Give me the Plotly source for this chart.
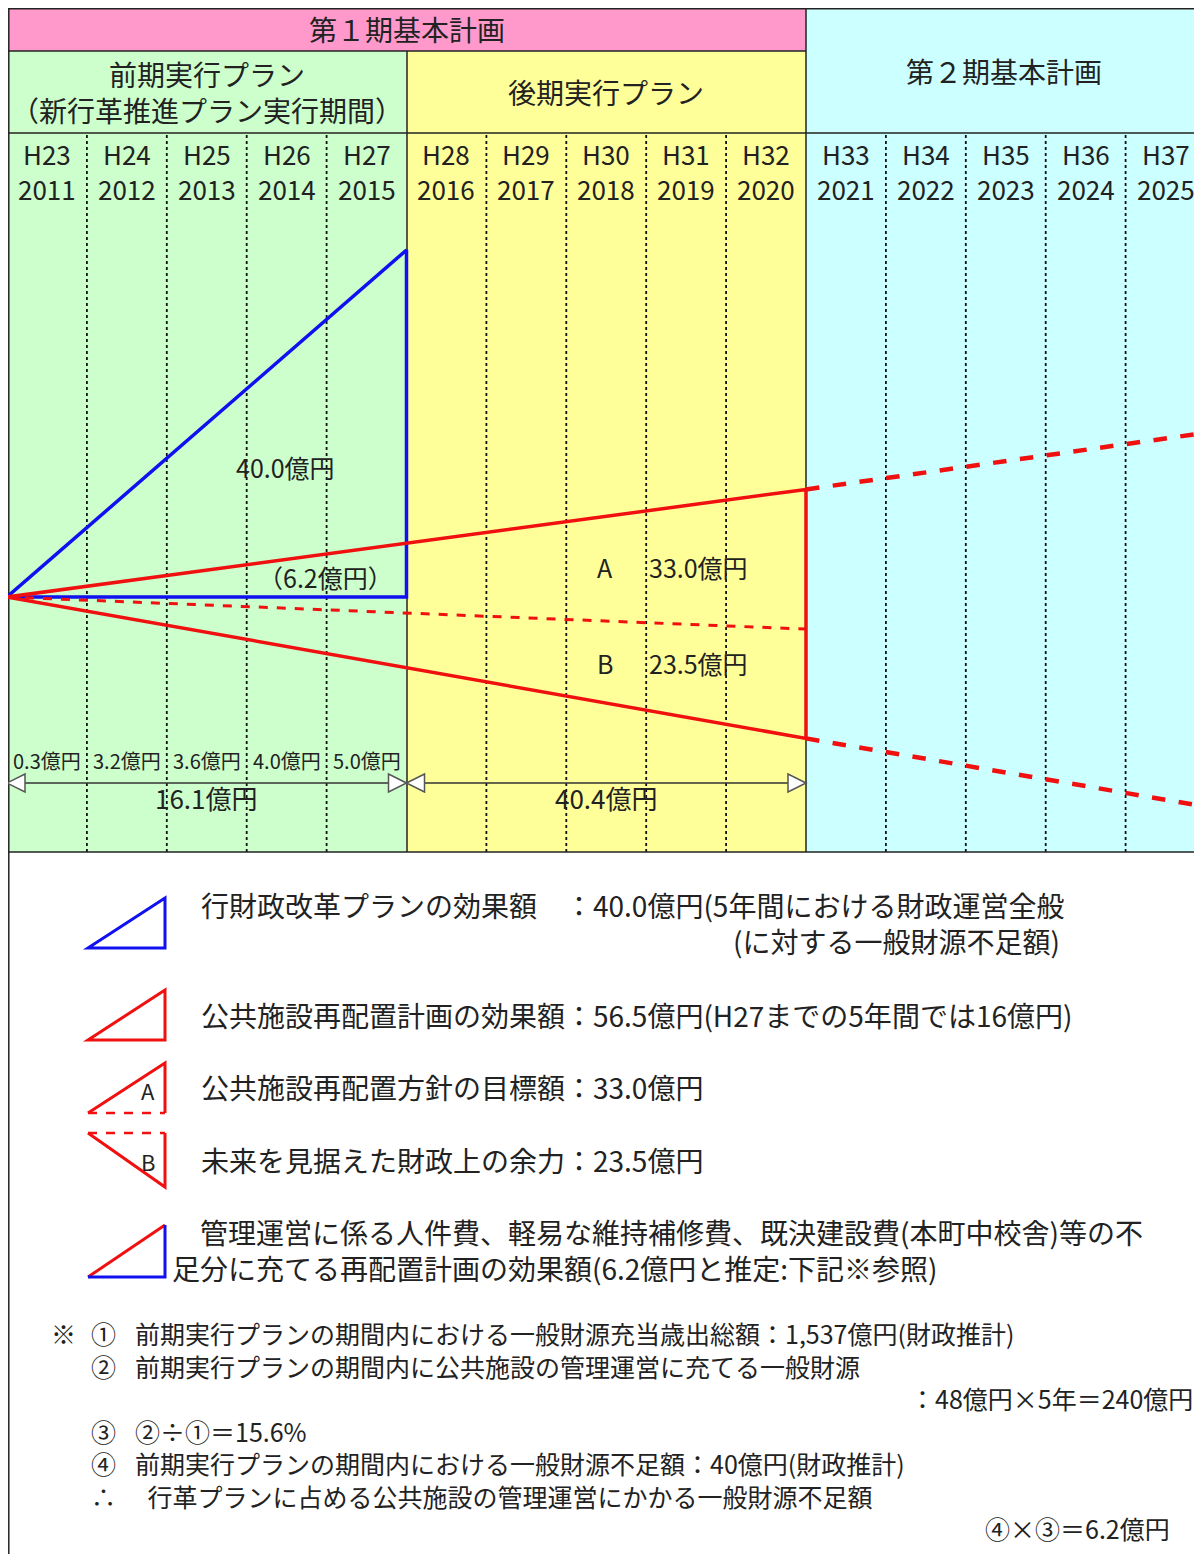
import plotly.graph_objects as go

# the page puts the figure 8px in from the top-left corner
OFF = 8
W, H = 1202 - OFF, 1554 - OFF

# ---------------- data ----------------
years = [2011, 2012, 2013, 2014, 2015, 2016, 2017, 2018, 2019, 2020,
         2021, 2022, 2023, 2024, 2025]
wareki = ["H23", "H24", "H25", "H26", "H27", "H28", "H29", "H30", "H31", "H32",
          "H33", "H34", "H35", "H36", "H37"]

plan1_label = "第１期基本計画"
plan1_span = [2011, 2021]
period_labels = ["前期実行プラン<br>（新行革推進プラン実行期間）", "後期実行プラン", "第２期基本計画"]
period_start = [2011, 2016, 2021]
period_end = [2016, 2021, 2026]

gyokaku_total = 40.0        # 行財政改革プランの効果額 (blue triangle)
mgmt_share = 6.2            # 管理運営に充てる効果額
target_a = 33.0             # A 公共施設再配置方針の目標額
reserve_b = 23.5            # B 未来を見据えた財政上の余力
early_annual = [0.3, 3.2, 3.6, 4.0, 5.0]   # H23-H27
late_total = 40.4                          # H28-H32

# schematic heights of the red fan (upper / middle / lower) at end of H32, and the dashed extension
fan_end_x = 2021
fan_end = [12.4, -3.7, -16.3]
ext_end_x = 2025.9
ext_end = [18.8, -24.0]

# ---------------- layout helpers ----------------
COL, LEFT = 79.9, 7          # px per year, left border (reference pixels)
BASE, UNIT = 597, 8.675      # baseline row, px per unit
FONT = "Noto Sans CJK JP, sans-serif"
INK = "#222222"
BLUE, RED = "#1010F0", "#F01010"
period_colors = ["#CCFFCC", "#FFFF99", "#CCFFFF"]
PINK = "#FF99CC"
SP = "\u3000"


def px(x):
    return (x - OFF) / W


def py(y):
    return 1 - (y - OFF) / H


def yx(x):  # reference pixel column -> year axis
    return 2011 + (x - LEFT) / COL


fig = go.Figure()
shapes = []
ann = []


def text(t, x, y, size, xanchor="center", xref="paper", color=INK, align=None):
    ann.append(dict(text=t, x=x, y=y, xref=xref, yref="paper", xanchor=xanchor, yanchor="middle",
                    align=align or ("left" if xanchor == "left" else "center"),
                    showarrow=False, borderpad=0, font=dict(family=FONT, size=size, color=color)))


def rect(x0, x1, y0, y1, color):
    shapes.append(dict(type="rect", xref="x", yref="paper", x0=x0, x1=x1, y0=py(y1), y1=py(y0),
                       fillcolor=color, line=dict(width=0), layer="below"))


def pline(x0, y0, x1, y1, width=1.5, color=INK):
    shapes.append(dict(type="line", xref="paper", yref="paper", x0=px(x0), y0=py(y0), x1=px(x1), y1=py(y1),
                       line=dict(color=color, width=width), layer="below"))


TOP = OFF + 0.8

# ---------------- header & column backgrounds ----------------
rect(plan1_span[0], plan1_span[1], TOP, 51, PINK)
text(plan1_label, (plan1_span[0] + plan1_span[1]) / 2, py(29), 28, xref="x")
for i, (s, e) in enumerate(zip(period_start, period_end)):
    rect(s, e, TOP if i == 2 else 51, 852, period_colors[i])
text(period_labels[0], (period_start[0] + period_end[0]) / 2, py(91.5), 28, xref="x")
text(period_labels[1], (period_start[1] + period_end[1]) / 2, py(92), 28, xref="x")
text(period_labels[2], (period_start[2] + yx(1202)) / 2, py(71), 28, xref="x")

for yr, w in zip(years, wareki):
    text(w, yr + 0.5, py(153), 26, xref="x")
    text(str(yr), yr + 0.5, py(188), 26, xref="x")
    if yr not in period_start:
        shapes.append(dict(type="line", xref="x", yref="paper", x0=yr, x1=yr, y0=py(852), y1=py(133),
                           line=dict(color="#111111", width=1.8, dash="dot"), layer="below"))

# frame lines
pline(LEFT, TOP, 1202, TOP)
pline(LEFT, 51, 806, 51)
pline(LEFT, 133, 1202, 133)
pline(LEFT, 852, 1202, 852)
pline(OFF + 0.8, TOP, OFF + 0.8, 1554)
pline(407, 51, 407, 852)
pline(806, TOP, 806, 852)

# ---------------- chart marks ----------------
fig.add_trace(go.Scatter(x=[2011, 2016, 2016, 2011], y=[0, gyokaku_total, 0, 0], mode="lines",
                         line=dict(color=BLUE, width=3.5), hoverinfo="skip"))
fig.add_trace(go.Scatter(x=[2011, fan_end_x], y=[0, fan_end[1]], mode="lines",
                         line=dict(color=RED, width=3, dash="dash"), hoverinfo="skip"))
fig.add_trace(go.Scatter(x=[2011, fan_end_x, fan_end_x, 2011], y=[0, fan_end[0], fan_end[2], 0], mode="lines",
                         line=dict(color=RED, width=3.5), hoverinfo="skip"))
for v0, v1 in zip(fan_end[::2], ext_end):
    fig.add_trace(go.Scatter(x=[fan_end_x, ext_end_x], y=[v0, v1], mode="lines",
                             line=dict(color=RED, width=4.5, dash="dash"), hoverinfo="skip"))

text(f"{gyokaku_total:.1f}億円", yx(285), py(467), 25, xref="x")
text(f"（{mgmt_share:.1f}億円）", yx(325), py(577), 25, xref="x")
text("A", yx(605), py(567), 25, xref="x")
text(f"{target_a:.1f}億円", yx(648), py(567), 25, xanchor="left", xref="x")
text("B", yx(605), py(663), 25, xref="x")
text(f"{reserve_b:.1f}億円", yx(648), py(663), 25, xanchor="left", xref="x")

# annual amounts and totals with double arrows
for yr, v in zip(years[:5], early_annual):
    text(f"{v:.1f}億円", yr + 0.5, py(760), 20, xref="x")
ay = (BASE - 783) / UNIT
ah, aw = 9 / UNIT, 18 / COL
for (s, e), tot in zip(zip(period_start[:2], period_end[:2]), [sum(early_annual), late_total]):
    shapes.append(dict(type="line", xref="x", yref="y", x0=s, x1=e, y0=ay, y1=ay,
                       line=dict(color="#333333", width=1.3)))
    for tip, base in [(s, s + aw), (e, e - aw)]:
        shapes.append(dict(type="path", xref="x", yref="y",
                           path=f"M {tip},{ay} L {base},{ay + ah} L {base},{ay - ah} Z",
                           fillcolor="white", line=dict(color="#555555", width=1.5)))
    text(f"{tot:.1f}億円", (s + e) / 2, py(797), 26, xref="x")


# ---------------- legend icons ----------------
def path(pts, color, width=3, dash="solid", close=False):
    d = "M " + " L ".join(f"{px(a)},{py(b)}" for a, b in pts) + (" Z" if close else "")
    shapes.append(dict(type="path", xref="paper", yref="paper", path=d,
                       line=dict(color=color, width=width, dash=dash)))


path([(88, 948), (165, 898), (165, 948)], BLUE, close=True)
path([(88, 1040), (165, 990), (165, 1040)], RED, close=True)
path([(88, 1113), (165, 1063), (165, 1113)], RED)
path([(88, 1113), (165, 1113)], RED, width=2.5, dash="dash")
text("A", px(148), py(1090), 22)
path([(88, 1133), (165, 1133)], RED, width=2.5, dash="dash")
path([(88, 1133), (165, 1187), (165, 1133)], RED)
text("B", px(148), py(1161), 22)
path([(88, 1277), (165, 1225)], RED)
path([(165, 1225), (165, 1277), (88, 1277)], BLUE)

LS = 28
text(f"行財政改革プランの効果額　：{gyokaku_total:.1f}億円(5年間における財政運営全般<br>"
     + SP * 19 + "(に対する一般財源不足額)", px(200), py(922.5), LS, "left")
text(f"公共施設再配置計画の効果額：{sum(early_annual) + late_total:.1f}億円(H27までの5年間では16億円)",
     px(200), py(1015), LS, "left")
text(f"公共施設再配置方針の目標額：{target_a:.1f}億円", px(200), py(1087), LS, "left")
text(f"未来を見据えた財政上の余力：{reserve_b:.1f}億円", px(200), py(1160), LS, "left")
text("　管理運営に係る人件費、軽易な維持補修費、既決建設費(本町中校舎)等の不<br>"
     f"足分に充てる再配置計画の効果額({mgmt_share:.1f}億円と推定:下記※参照)", px(171), py(1250), LS, "left")

# notes: marks column and body block
NS = 25
text("※", px(50), py(1333), NS, "left")
note_marks = ["①", "②", SP, "③", "④", "∴", SP]
note_lines = ["前期実行プランの期間内における一般財源充当歳出総額：1,537億円(財政推計)",
              "前期実行プランの期間内に公共施設の管理運営に充てる一般財源",
              SP * 31 + "：48億円×5年＝240億円",
              "②÷①＝15.6%",
              "前期実行プランの期間内における一般財源不足額：40億円(財政推計)",
              "\u2002行革プランに占める公共施設の管理運営にかかる一般財源不足額",
              SP * 34 + f"④×③＝{mgmt_share:.1f}億円"]
text("<br>".join(note_marks), px(90), py(1430.5), NS, "left")
text("<br>".join(note_lines), px(134), py(1430.5), NS, "left")

fig.update_layout(
    width=W, height=H, margin=dict(l=0, r=0, t=0, b=0),
    paper_bgcolor="white", plot_bgcolor="rgba(0,0,0,0)",
    showlegend=False, shapes=shapes, annotations=ann,
    xaxis=dict(range=[yx(OFF), yx(1202)], domain=[0, 1], visible=False, fixedrange=True),
    yaxis=dict(range=[(BASE - 1554) / UNIT, (BASE - OFF) / UNIT], domain=[0, 1], visible=False, fixedrange=True),
)
fig.write_html("out.html")
